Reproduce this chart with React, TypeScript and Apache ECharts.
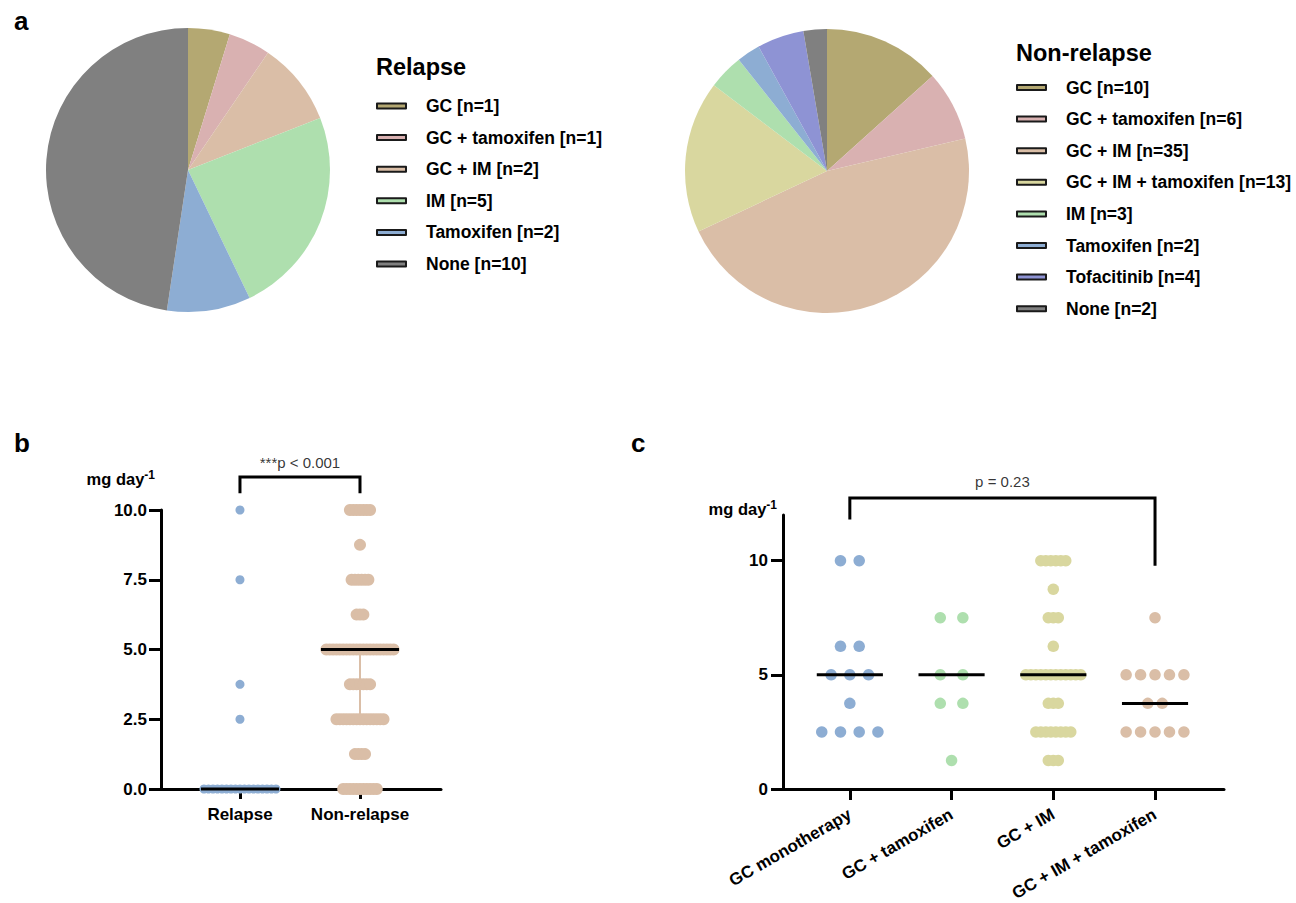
import React, { useEffect, useRef } from "react";
import * as echarts from "echarts";

const FONT = '"Liberation Sans", Arial, Helvetica, sans-serif';

// ---------- Panel a: pies ----------
const relapseCategories = ["GC", "GC + tamoxifen", "GC + IM", "IM", "Tamoxifen", "None"];
const relapseCounts = [1, 1, 2, 5, 2, 10];
const nonRelapseCategories = [
  "GC",
  "GC + tamoxifen",
  "GC + IM",
  "GC + IM + tamoxifen",
  "IM",
  "Tamoxifen",
  "Tofacitinib",
  "None",
];
const nonRelapseCounts = [10, 6, 35, 13, 3, 2, 4, 2];

const categoryColors: Record<string, string> = {
  GC: "#B4A872",
  "GC + tamoxifen": "#D9B1B1",
  "GC + IM": "#DABEA7",
  "GC + IM + tamoxifen": "#D9D79F",
  IM: "#AEDFAE",
  Tamoxifen: "#8DADD3",
  Tofacitinib: "#8E93D4",
  None: "#808080",
};

// ---------- Panel b: dose by relapse status ----------
const statusGroups = ["Relapse", "Non-relapse"];
const relapseDoseValues = [0, 2.5, 3.75, 7.5, 10];
const relapseDoseCounts = [17, 1, 1, 1, 1];
const nonRelapseDoseValues = [0, 1.25, 2.5, 3.75, 5, 6.25, 7.5, 8.75, 10];
const nonRelapseDoseCounts = [11, 4, 15, 7, 21, 3, 6, 1, 7];
const statusYTicks = [0, 2.5, 5, 7.5, 10];
const nonRelapseIQR = [2.5, 5];
const pValueB = "***p < 0.001";

// ---------- Panel c: dose by regimen ----------
const regimenGroups = ["GC monotherapy", "GC + tamoxifen", "GC + IM", "GC + IM + tamoxifen"];
const gcMonoValues = [2.5, 3.75, 5, 6.25, 10];
const gcMonoCounts = [4, 1, 3, 2, 2];
const gcTamValues = [1.25, 3.75, 5, 7.5];
const gcTamCounts = [1, 2, 2, 2];
const gcImValues = [1.25, 2.5, 3.75, 5, 6.25, 7.5, 8.75, 10];
const gcImCounts = [3, 8, 3, 12, 1, 3, 1, 6];
const gcImTamValues = [2.5, 3.75, 5, 7.5];
const gcImTamCounts = [5, 2, 5, 1];
const regimenYTicks = [0, 5, 10];
const pValueC = "p = 0.23";

// ---------- helpers ----------
function spread(values: number[], counts: number[], group: number, step: number) {
  const pts: number[][] = [];
  values.forEach((v, r) => {
    const n = counts[r];
    for (let i = 0; i < n; i++) pts.push([group + (i - (n - 1) / 2) * step, v]);
  });
  return pts;
}
function median(values: number[], counts: number[]) {
  const all: number[] = [];
  values.forEach((v, r) => {
    for (let i = 0; i < counts[r]; i++) all.push(v);
  });
  all.sort((a, b) => a - b);
  const n = all.length;
  return n % 2 ? all[(n - 1) / 2] : (all[n / 2 - 1] + all[n / 2]) / 2;
}

const MEDIAN_HALF = 0.325;

function medianSeries(group: number, m: number, xi: number) {
  return {
    type: "line",
    xAxisIndex: xi,
    yAxisIndex: xi,
    data: [
      [group - MEDIAN_HALF, m],
      [group + MEDIAN_HALF, m],
    ],
    symbol: "none",
    lineStyle: { color: "#000", width: 3 },
    z: 6,
    silent: true,
    clip: false,
  };
}

function axisLineStyle() {
  return { show: true, onZero: false, lineStyle: { color: "#000", width: 3 } };
}

export default function App() {
  const ref = useRef<HTMLDivElement>(null);

  useEffect(() => {
    if (!ref.current) return;
    const chart = echarts.init(ref.current, undefined, { renderer: "svg" });

    const relapseNames = relapseCategories.map((c, i) => `${c} [n=${relapseCounts[i]}]`);
    const nonRelapseNames = nonRelapseCategories.map((c, i) => `${c} [n=${nonRelapseCounts[i]}]`);

    const legendCommon = {
      orient: "vertical",
      icon: "rect",
      itemWidth: 29,
      itemHeight: 5,
      itemGap: 13.6,
      padding: 0,
      selectedMode: false,
      itemStyle: { borderColor: "#1a1a1a", borderWidth: 2 },
      textStyle: {
        fontFamily: FONT,
        fontSize: 17.5,
        fontWeight: "bold",
        color: "#000",
        lineHeight: 18,
        padding: [0, 0, 0, 15],
      },
    };

    const yName = (gap: number) => ({
      name: "{base|mg day}{sup|-1}",
      nameLocation: "end",
      nameGap: gap,
      nameTextStyle: {
        align: "right",
        verticalAlign: "middle",
        padding: [0, 6, 0, 0],
        rich: {
          base: { fontFamily: FONT, fontSize: 16.5, fontWeight: "bold", color: "#000", lineHeight: 20 },
          sup: { fontFamily: FONT, fontSize: 12, fontWeight: "bold", color: "#000", lineHeight: 12, verticalAlign: "top" },
        },
      },
    });

    const labelFont = { fontFamily: FONT, fontSize: 17, fontWeight: "bold", color: "#000" };

    const gapText = (xi: number, x: number, y: number, text: string) => ({
      type: "scatter",
      xAxisIndex: xi,
      yAxisIndex: xi,
      data: [[x, y]],
      symbolSize: 1,
      itemStyle: { color: "rgba(0,0,0,0)" },
      clip: false,
      silent: true,
      z: 7,
      label: {
        show: true,
        position: "inside",
        formatter: text,
        fontFamily: FONT,
        fontSize: 15,
        color: "#000",
      },
    });

    const option: any = {
      animation: false,
      backgroundColor: "#ffffff",
      textStyle: { fontFamily: FONT },
      graphic: [
        { type: "text", x: 14, y: 21, style: { text: "a", fontFamily: FONT, fontSize: 26, fontWeight: "bold", fill: "#000", verticalAlign: "middle" } },
        { type: "text", x: 14, y: 443, style: { text: "b", fontFamily: FONT, fontSize: 26, fontWeight: "bold", fill: "#000", verticalAlign: "middle" } },
        { type: "text", x: 631, y: 443, style: { text: "c", fontFamily: FONT, fontSize: 26, fontWeight: "bold", fill: "#000", verticalAlign: "middle" } },
        { type: "text", x: 376, y: 67, style: { text: "Relapse", fontFamily: FONT, fontSize: 23.5, fontWeight: "bold", fill: "#000", verticalAlign: "middle" } },
        { type: "text", x: 1016, y: 52.5, style: { text: "Non-relapse", fontFamily: FONT, fontSize: 23.5, fontWeight: "bold", fill: "#000", verticalAlign: "middle" } },
      ],
      legend: [
        { ...legendCommon, data: relapseNames, left: 376, top: 97 },
        { ...legendCommon, data: nonRelapseNames, left: 1016, top: 78.5 },
      ],
      grid: [
        { left: 161, top: 510, width: 280, height: 279, outerBoundsMode: "none", containLabel: false },
        { left: 783, top: 515, width: 441, height: 274, outerBoundsMode: "none", containLabel: false },
      ],
      xAxis: [
        {
          gridIndex: 0,
          type: "value",
          min: -0.658,
          max: 1.675,
          axisLine: axisLineStyle(),
          splitLine: { show: false },
          axisTick: { show: true, length: 10, customValues: [0, 1], lineStyle: { color: "#000", width: 3 } },
          axisLabel: { ...labelFont, margin: 17, customValues: [0, 1], formatter: (v: number) => statusGroups[Math.round(v)] ?? "" },
        },
        {
          gridIndex: 1,
          type: "value",
          min: -0.657,
          max: 3.678,
          axisLine: axisLineStyle(),
          splitLine: { show: false },
          axisTick: { show: true, length: 11, customValues: [0, 1, 2, 3], lineStyle: { color: "#000", width: 3 } },
          axisLabel: {
            ...labelFont,
            margin: 24,
            rotate: 30,
            customValues: [0, 1, 2, 3],
            formatter: (v: number) => regimenGroups[Math.round(v)] ?? "",
          },
        },
      ],
      yAxis: [
        {
          gridIndex: 0,
          type: "value",
          min: 0,
          max: 10,
          ...yName(31),
          axisLine: axisLineStyle(),
          splitLine: { show: false },
          axisTick: { show: true, length: 12, customValues: statusYTicks, lineStyle: { color: "#000", width: 3 } },
          axisLabel: { ...labelFont, margin: 14, customValues: statusYTicks, formatter: (v: number) => v.toFixed(1) },
        },
        {
          gridIndex: 1,
          type: "value",
          min: 0,
          max: 12,
          ...yName(6),
          axisLine: axisLineStyle(),
          splitLine: { show: false },
          axisTick: { show: true, length: 12, customValues: regimenYTicks, lineStyle: { color: "#000", width: 3 } },
          axisLabel: { ...labelFont, margin: 15, customValues: regimenYTicks, formatter: (v: number) => String(v) },
        },
      ],
      series: [
        {
          type: "pie",
          center: [188, 170],
          radius: 142,
          startAngle: 90,
          clockwise: true,
          label: { show: false },
          labelLine: { show: false },
          silent: true,
          data: relapseNames.map((n, i) => ({
            name: n,
            value: relapseCounts[i],
            itemStyle: { color: categoryColors[relapseCategories[i]] },
          })),
        },
        {
          type: "pie",
          center: [827, 171],
          radius: 142,
          startAngle: 90,
          clockwise: true,
          label: { show: false },
          labelLine: { show: false },
          silent: true,
          data: nonRelapseNames.map((n, i) => ({
            name: n,
            value: nonRelapseCounts[i],
            itemStyle: { color: categoryColors[nonRelapseCategories[i]] },
          })),
        },
        // panel b
        {
          type: "line",
          xAxisIndex: 0,
          yAxisIndex: 0,
          data: [
            [1, nonRelapseIQR[0]],
            [1, nonRelapseIQR[1]],
          ],
          symbol: "none",
          lineStyle: { color: categoryColors["GC + IM"], width: 2 },
          z: 1,
          silent: true,
        },
        {
          type: "scatter",
          name: "Relapse",
          xAxisIndex: 0,
          yAxisIndex: 0,
          symbolSize: 9,
          itemStyle: { color: categoryColors.Tamoxifen, opacity: 1 },
          clip: false,
          data: spread(relapseDoseValues, relapseDoseCounts, 0, 0.0375),
          z: 3,
        },
        {
          type: "scatter",
          name: "Non-relapse",
          xAxisIndex: 0,
          yAxisIndex: 0,
          symbolSize: 12,
          itemStyle: { color: categoryColors["GC + IM"], opacity: 1 },
          clip: false,
          data: spread(nonRelapseDoseValues, nonRelapseDoseCounts, 1, 0.028),
          z: 3,
        },
        medianSeries(0, median(relapseDoseValues, relapseDoseCounts), 0),
        medianSeries(1, median(nonRelapseDoseValues, nonRelapseDoseCounts), 0),
        {
          type: "line",
          xAxisIndex: 0,
          yAxisIndex: 0,
          data: [
            [0, 10.6],
            [0, 11.18],
            [1, 11.18],
            [1, 10.6],
          ],
          symbol: "none",
          lineStyle: { color: "#000", width: 3, join: "miter" },
          clip: false,
          silent: true,
        },
        gapText(0, 0.5, 11.72, pValueB),
        // panel c
        ...[
          [gcMonoValues, gcMonoCounts, categoryColors.Tamoxifen, 0.184],
          [gcTamValues, gcTamCounts, categoryColors.IM, 0.222],
          [gcImValues, gcImCounts, categoryColors["GC + IM + tamoxifen"], 0.049],
          [gcImTamValues, gcImTamCounts, categoryColors["GC + IM"], 0.142],
        ].map((g: any, gi) => ({
          type: "scatter",
          name: regimenGroups[gi],
          xAxisIndex: 1,
          yAxisIndex: 1,
          symbolSize: 11.5,
          itemStyle: { color: g[2], opacity: 1 },
          clip: false,
          data: spread(g[0], g[1], gi, g[3]),
          z: 3,
        })),
        medianSeries(0, median(gcMonoValues, gcMonoCounts), 1),
        medianSeries(1, median(gcTamValues, gcTamCounts), 1),
        medianSeries(2, median(gcImValues, gcImCounts), 1),
        medianSeries(3, median(gcImTamValues, gcImTamCounts), 1),
        {
          type: "line",
          xAxisIndex: 1,
          yAxisIndex: 1,
          data: [
            [0, 11.8],
            [0, 12.75],
            [3, 12.75],
            [3, 9.78],
          ],
          symbol: "none",
          lineStyle: { color: "#000", width: 3, join: "miter" },
          clip: false,
          silent: true,
        },
        gapText(1, 1.5, 13.47, pValueC),
      ],
    };

    chart.setOption(option);
    return () => chart.dispose();
  }, []);

  return (
    <div
      ref={ref}
      style={{ position: "fixed", left: 0, top: 0, width: 1296, height: 903, background: "#fff" }}
    />
  );
}
